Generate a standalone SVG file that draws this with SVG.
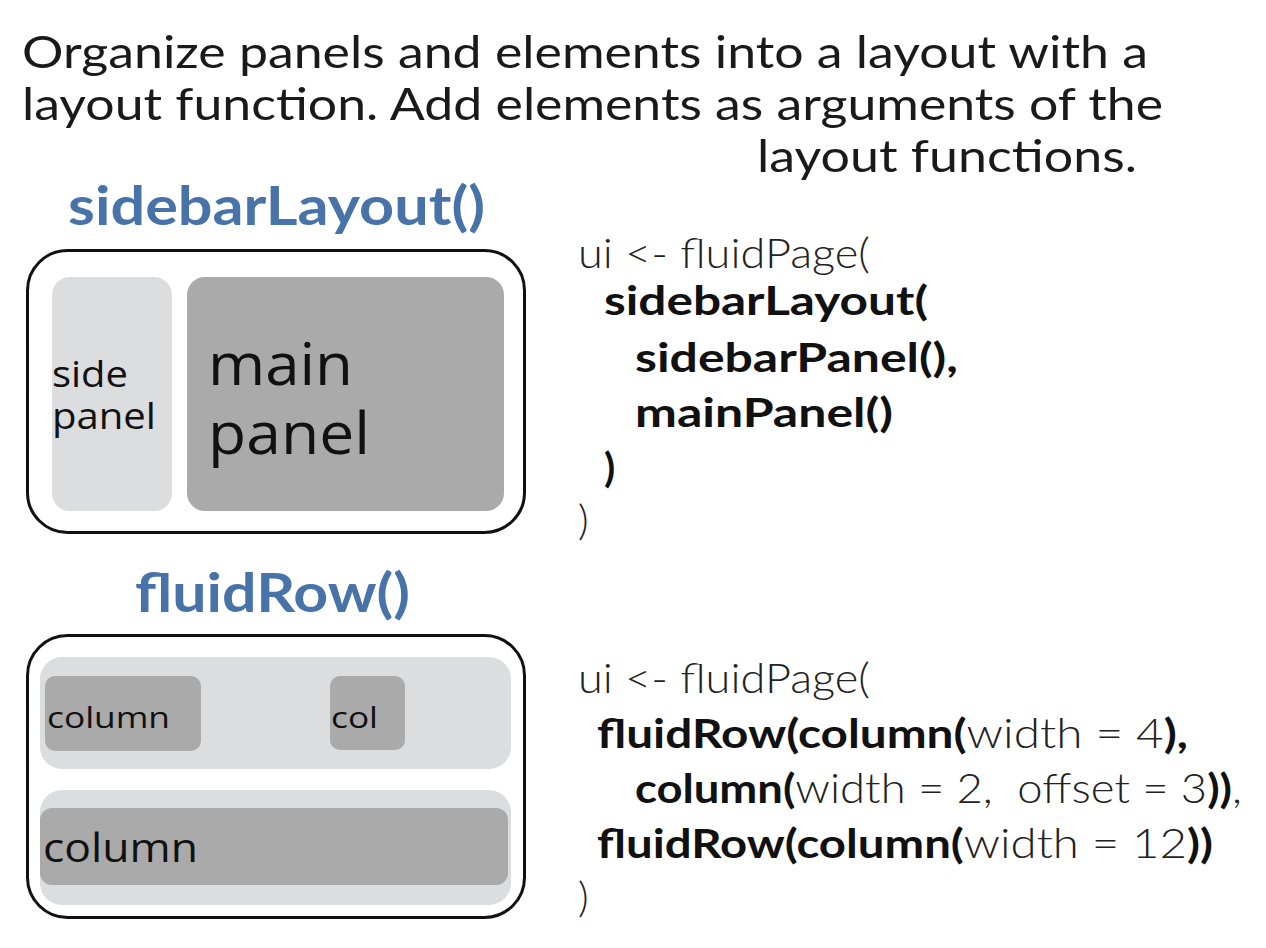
<svg xmlns="http://www.w3.org/2000/svg" width="1266" height="948" viewBox="0 0 1266 948">
<style>
text{font-family:"Lato","Open Sans","Liberation Sans",sans-serif;}
.hd{font-size:45px;fill:#1a1a1a;}
.ttl{font-size:53px;font-weight:bold;fill:#4773a9;}
.code{font-size:41px;fill:#222;font-weight:300;}
.b{font-weight:bold;fill:#111;}
.lbl{fill:#111;font-family:"Open Sans","Lato",sans-serif;}
.outer{fill:#fff;stroke:#111;stroke-width:3;}
.light{fill:#dcdddf;}
.dark{fill:#a9aaa9;}
</style>
<rect width="1266" height="948" fill="#fff"/>
<g id="heading">
<text class="hd" x="22" y="68" textLength="1126" lengthAdjust="spacingAndGlyphs">Organize panels and elements into a layout with a</text>
<text class="hd" x="22" y="120" textLength="1141" lengthAdjust="spacingAndGlyphs">layout function. Add elements as arguments of the</text>
<text class="hd" x="757" y="172" textLength="380" lengthAdjust="spacingAndGlyphs">layout functions.</text>
</g>
<g id="sidebarLayout">
<text class="ttl" x="68" y="225" textLength="417" lengthAdjust="spacingAndGlyphs">sidebarLayout()</text>
<rect class="outer" x="27.5" y="250.5" width="497" height="282" rx="40"/>
<rect class="light" x="52" y="277" width="120" height="234" rx="18"/>
<rect class="dark" x="187" y="277" width="317" height="234" rx="18"/>
<text class="lbl" x="52" y="387" font-size="36" textLength="76" lengthAdjust="spacingAndGlyphs">side</text>
<text class="lbl" x="52" y="429" font-size="36" textLength="104" lengthAdjust="spacingAndGlyphs">panel</text>
<text class="lbl" x="208" y="385" font-size="58" textLength="145" lengthAdjust="spacingAndGlyphs">main</text>
<text class="lbl" x="208" y="454" font-size="58" textLength="162" lengthAdjust="spacingAndGlyphs">panel</text>
</g>
<g id="sidebarCode">
<text class="code" x="578" y="268" textLength="292" lengthAdjust="spacingAndGlyphs">ui &lt;- fluidPage(</text>
<text class="code b" x="604" y="315" textLength="324" lengthAdjust="spacingAndGlyphs">sidebarLayout(</text>
<text class="code b" x="635" y="372" textLength="323" lengthAdjust="spacingAndGlyphs">sidebarPanel(),</text>
<text class="code b" x="635" y="427" textLength="258" lengthAdjust="spacingAndGlyphs">mainPanel()</text>
<text class="code b" x="604" y="482">)</text>
<text class="code" x="578" y="535">)</text>
</g>
<g id="fluidRow">
<text class="ttl" x="135" y="612" textLength="275" lengthAdjust="spacingAndGlyphs">fluidRow()</text>
<rect class="outer" x="27.5" y="635.5" width="497" height="282" rx="40"/>
<rect class="light" x="40" y="657" width="471" height="112" rx="22"/>
<rect class="dark" x="45" y="676" width="156" height="75" rx="10"/>
<rect class="dark" x="330" y="676" width="75" height="74" rx="10"/>
<text class="lbl" x="47" y="728" font-size="30" textLength="123" lengthAdjust="spacingAndGlyphs">column</text>
<text class="lbl" x="331" y="728" font-size="30" textLength="47" lengthAdjust="spacingAndGlyphs">col</text>
<rect class="light" x="40" y="790" width="471" height="115" rx="22"/>
<rect class="dark" x="40" y="808" width="468" height="77" rx="12"/>
<text class="lbl" x="43" y="862" font-size="40" textLength="155" lengthAdjust="spacingAndGlyphs">column</text>
</g>
<g id="fluidRowCode">
<text class="code" x="578" y="693" textLength="292" lengthAdjust="spacingAndGlyphs">ui &lt;- fluidPage(</text>
<text class="code" x="597" y="748" textLength="591" lengthAdjust="spacingAndGlyphs"><tspan class="b">fluidRow(column(</tspan>width = 4<tspan class="b">),</tspan></text>
<text class="code" x="635" y="803" textLength="607" lengthAdjust="spacingAndGlyphs"><tspan class="b">column(</tspan>width = 2,&#160; offset = 3<tspan class="b">))</tspan>,</text>
<text class="code" x="597" y="858" textLength="616" lengthAdjust="spacingAndGlyphs"><tspan class="b">fluidRow(column(</tspan>width = 12<tspan class="b">))</tspan></text>
<text class="code" x="578" y="912">)</text>
</g>
</svg>
